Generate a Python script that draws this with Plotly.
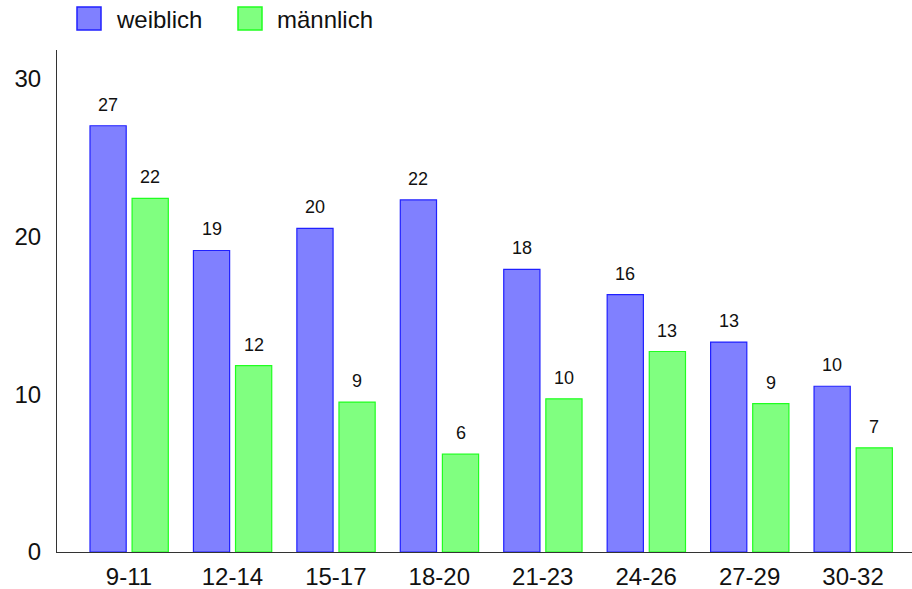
import plotly.graph_objects as go

categories = ["9-11", "12-14", "15-17", "18-20", "21-23", "24-26", "27-29", "30-32"]
weiblich = [27.0, 19.1, 20.5, 22.3, 17.9, 16.3, 13.3, 10.5]
maennlich = [22.4, 11.8, 9.5, 6.2, 9.7, 12.7, 9.4, 6.6]
weiblich_labels = ["27", "19", "20", "22", "18", "16", "13", "10"]
maennlich_labels = ["22", "12", "9", "6", "10", "13", "9", "7"]
y_ticks = [0, 10, 20, 30]

FONT = "Liberation Sans, Arial, sans-serif"
blue_fill, blue_line = "#8080FF", "#2020FF"
green_fill, green_line = "#80FF80", "#20FF20"

W, H = 912, 589
L, R, T, B = 57, 0, 50, 37
PW, PH = W - L - R, H - T - B

BAR_W = 0.35
series = [
    ("weiblich", weiblich, weiblich_labels, blue_fill, blue_line, -0.377),
    ("männlich", maennlich, maennlich_labels, green_fill, green_line, 0.03),
]

fig = go.Figure()
annotations = []
for name, vals, labels, fc, lc, off in series:
    fig.add_trace(go.Bar(
        x=categories, y=vals, name=name, showlegend=False,
        width=BAR_W, offset=off,
        marker=dict(color=fc, line=dict(color=lc, width=1.2)),
    ))
    for i, (v, lab) in enumerate(zip(vals, labels)):
        annotations.append(dict(
            x=i + off + BAR_W / 2, y=v, xref="x", yref="y", text=lab,
            showarrow=False, yanchor="bottom", yshift=9,
            font=dict(family=FONT, size=18, color="#111"),
        ))

# legend: large square swatches with labels, placed in the top margin
def px_x(p):
    return (p - L) / PW

def px_y(p):
    return (H - B - p) / PH

legend_items = [("weiblich", blue_fill, blue_line, 77), ("männlich", green_fill, green_line, 238)]
shapes = []
for name, fc, lc, px in legend_items:
    shapes.append(dict(type="rect", xref="paper", yref="paper",
                       x0=px_x(px), x1=px_x(px + 24), y0=px_y(30), y1=px_y(7),
                       fillcolor=fc, line=dict(color=lc, width=1.5)))
    annotations.append(dict(x=px_x(px + 37), y=px_y(19), xref="paper", yref="paper",
                            text=name, showarrow=False, xanchor="left", yanchor="middle",
                            font=dict(family=FONT, size=24, color="#111")))

fig.update_layout(
    width=W, height=H,
    margin=dict(l=L, r=R, t=T, b=B, pad=0, autoexpand=False),
    paper_bgcolor="white", plot_bgcolor="white",
    barmode="overlay",
    font=dict(family=FONT, size=24, color="#111"),
    showlegend=False,
    shapes=shapes, annotations=annotations,
)
fig.update_xaxes(
    range=[-0.696, 7.57], showline=True, linecolor="#333", linewidth=1.2,
    ticks="", showgrid=False, zeroline=False, tickfont=dict(size=24), ticklabelstandoff=3,
)
fig.update_yaxes(
    range=[0, 31.8], tickvals=y_ticks, showline=True, linecolor="#333", linewidth=1.2,
    ticks="", showgrid=False, zeroline=False, tickfont=dict(size=24), ticklabelstandoff=10,
)
fig.write_html("out.html", config={"displayModeBar": False},
               post_script="document.body.style.margin='0';")
